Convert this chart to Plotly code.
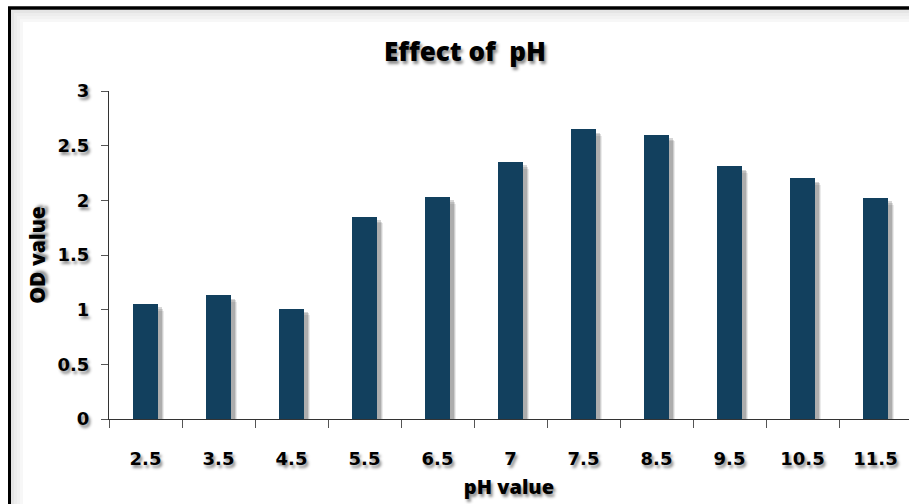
import plotly.graph_objects as go

# pH levels tested and the measured optical density at each
ph_labels = ["2.5", "3.5", "4.5", "5.5", "6.5", "7", "7.5", "8.5", "9.5", "10.5", "11.5"]
od_values = [1.05, 1.13, 1.01, 1.85, 2.03, 2.35, 2.65, 2.60, 2.31, 2.20, 2.02]
y_ticks = [0, 0.5, 1, 1.5, 2, 2.5, 3]
y_tick_text = ["0", "0.5", "1", "1.5", "2", "2.5", "3"]

W, H = 909, 504
M_L, M_R, M_T, M_B = 109, 0, 91, 85
PW, PH = W - M_L - M_R, H - M_T - M_B

BAR_COLOR = "#12405E"
BAR_W = 0.33
FONT = "Open Sans"
TICK_FONT = "DejaVu Sans"
SHADOW = "2px 3px 3px rgba(0,0,0,0.45)"


def px_x(p):
    return (p - M_L) / PW


def px_y(q):
    return (H - M_B - q) / PH


fig = go.Figure()

# soft drop shadow behind each bar (same values, nudged right and down)
for dx, dy, a in [(0.095, 0.06, 0.08), (0.075, 0.045, 0.12), (0.055, 0.03, 0.16)]:
    fig.add_trace(go.Bar(
        x=ph_labels, y=od_values, base=[-dy] * len(od_values),
        width=BAR_W, offset=-BAR_W / 2 + dx,
        marker=dict(color=f"rgba(0,0,0,{a})", line=dict(width=0)),
        hoverinfo="skip", showlegend=False,
    ))

fig.add_trace(go.Bar(
    x=ph_labels, y=od_values, width=BAR_W, offset=-BAR_W / 2,
    marker=dict(color=BAR_COLOR, line=dict(width=0)),
    name="OD value", showlegend=False,
))

shapes = []
# frame: heavy black line along the top and down the left side, with a faint inner shade
for i, a in enumerate([0.10, 0.07, 0.05, 0.03]):
    off = 3 * i
    shapes.append(dict(type="rect", xref="paper", yref="paper",
                       x0=px_x(11 + off), x1=px_x(W), y0=px_y(10 + off + 3), y1=px_y(10 + off),
                       fillcolor=f"rgba(0,0,0,{a})", line=dict(width=0), layer="below"))
    shapes.append(dict(type="rect", xref="paper", yref="paper",
                       x0=px_x(11 + off), x1=px_x(11 + off + 3), y0=px_y(H), y1=px_y(13 + off),
                       fillcolor=f"rgba(0,0,0,{a})", line=dict(width=0), layer="below"))
shapes.append(dict(type="line", xref="paper", yref="paper",
                   x0=px_x(8), x1=px_x(W), y0=px_y(8), y1=px_y(8),
                   line=dict(color="black", width=3.5)))
shapes.append(dict(type="line", xref="paper", yref="paper",
                   x0=px_x(9.5), x1=px_x(9.5), y0=px_y(7), y1=px_y(H + 2),
                   line=dict(color="black", width=3)))

fig.update_layout(
    width=W, height=H,
    margin=dict(l=M_L, r=M_R, t=M_T, b=M_B, autoexpand=False),
    paper_bgcolor="white", plot_bgcolor="white",
    barmode="overlay", bargap=0,
    shapes=shapes,
    title=dict(text="Effect of  pH", x=465 / W, xanchor="center",
               y=1 - 52 / H, yanchor="middle",
               font=dict(family=FONT, size=26, color="black", weight=800, shadow=SHADOW)),
    xaxis=dict(
        type="category", range=[-0.5, -0.5 + PW / 73.0],
        showline=True, linecolor="#333333", linewidth=1.2,
        ticks="outside", tickson="boundaries", ticklen=8, tickcolor="#555555", tickwidth=1,
        ticklabelstandoff=23,
        tickfont=dict(family=TICK_FONT, size=18, color="black", weight="bold", shadow=SHADOW),
        showgrid=False, zeroline=False, automargin=False,
        title=dict(text="pH value", standoff=12,
                   font=dict(family=FONT, size=20, color="black", weight=800, shadow=SHADOW)),
    ),
    yaxis=dict(
        range=[0, 3], tickvals=y_ticks, ticktext=y_tick_text,
        showline=True, linecolor="#333333", linewidth=1.2,
        ticks="outside", ticklen=7, tickcolor="#555555", tickwidth=1,
        ticklabelstandoff=8,
        tickfont=dict(family=TICK_FONT, size=18, color="black", weight="bold", shadow=SHADOW),
        showgrid=False, zeroline=False, automargin=False,
        title=dict(text="OD value", standoff=6,
                   font=dict(family=FONT, size=21, color="black", weight=800, shadow=SHADOW)),
    ),
)

fig.write_html("out.html")
